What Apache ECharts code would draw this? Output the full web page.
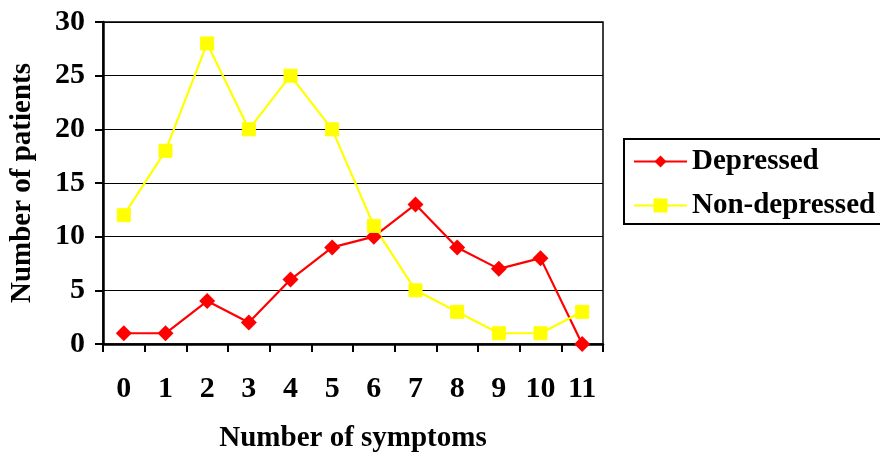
<!DOCTYPE html>
<html><head><meta charset="utf-8">
<script src="https://cdn.jsdelivr.net/npm/echarts@6/dist/echarts.min.js"></script>
<style>html,body{margin:0;padding:0;background:#fff}#c{width:880px;height:453px}</style>
</head><body><div id="c"></div>
<script>
const categories = ['0','1','2','3','4','5','6','7','8','9','10','11'];
const depressed = [1,1,4,2,6,9,10,13,9,7,8,0];
const nonDepressed = [12,18,28,20,25,20,11,5,3,1,1,3];
const yTicks = {min:0, max:30, interval:5};
const font = 'Liberation Serif';
const chart = echarts.init(document.getElementById('c'));
chart.setOption({
  animation:false,
  grid:{left:103,right:277,top:22,bottom:109,show:true,borderColor:'#000',borderWidth:1.5,
        containLabel:false,outerBoundsMode:'none'},
  legend:{
    left:624, top:139, orient:'vertical',
    borderColor:'#000', borderWidth:2, padding:[8,30,4,9],
    itemWidth:53, itemHeight:15, itemGap:15,
    textStyle:{fontFamily:font,fontWeight:'bold',fontSize:29,color:'#000'},
    data:['Depressed','Non-depressed']
  },
  xAxis:{
    type:'category', data:categories, boundaryGap:true,
    name:'Number of symptoms', nameLocation:'middle', nameGap:80,
    nameTextStyle:{fontFamily:font,fontWeight:'bold',fontSize:29,color:'#000'},
    axisLine:{lineStyle:{color:'#000',width:2.5}},
    axisTick:{show:true,inside:false,length:8,lineStyle:{color:'#000',width:2}},
    axisLabel:{fontFamily:font,fontWeight:'bold',fontSize:30,color:'#000',margin:30},
    splitLine:{show:false}
  },
  yAxis:{
    type:'value', min:yTicks.min, max:yTicks.max, interval:yTicks.interval,
    name:'Number of patients', nameLocation:'middle', nameGap:66,
    nameTextStyle:{fontFamily:font,fontWeight:'bold',fontSize:29,color:'#000'},
    axisLine:{show:true,lineStyle:{color:'#000',width:2.5}},
    axisTick:{show:true,inside:false,length:8,lineStyle:{color:'#000',width:2}},
    axisLabel:{fontFamily:font,fontWeight:'bold',fontSize:30,color:'#000',margin:18},
    splitLine:{show:true,lineStyle:{color:'#000',width:1}}
  },
  series:[
    {name:'Depressed',type:'line',data:depressed,symbol:'diamond',symbolSize:16,
     lineStyle:{color:'#ff0000',width:2.2},itemStyle:{color:'#ff0000'}},
    {name:'Non-depressed',type:'line',data:nonDepressed,symbol:'rect',symbolSize:13,
     lineStyle:{color:'#ffff00',width:2.2},itemStyle:{color:'#ffff00',borderColor:'#ffff00',borderWidth:1}}
  ]
});
</script></body></html>
